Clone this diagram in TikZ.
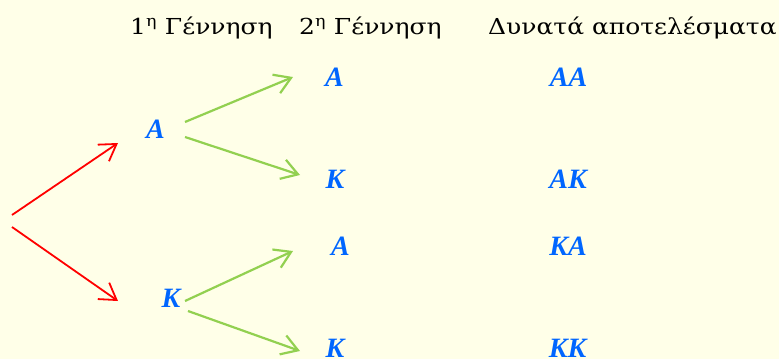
\documentclass[tikz,border=0pt]{standalone}
\usepackage{fontspec}
\setmainfont{Liberation Serif}
\newfontfamily\headfont[FakeStretch=1.135]{DejaVu Serif}
\usetikzlibrary{arrows.meta, calc}
\definecolor{treebg}{HTML}{FFFFE8}
\definecolor{treeblue}{HTML}{0066FF}
\definecolor{treered}{HTML}{FF0000}
\definecolor{treegreen}{HTML}{92D050}

\begin{document}
\begin{tikzpicture}[x=1pt, y=-1pt,
      gene/.style={font=\fontsize{28}{30}\selectfont\bfseries\itshape,
                   text=treeblue, inner sep=0pt, minimum width=40pt,
                   minimum height=30pt},
      head/.style={font=\headfont\fontsize{22}{24}\selectfont, inner sep=0pt,
                   anchor=base west},
      redarr/.style={-{Straight Barb[length=16pt, width=20pt]}, line width=1.8pt,
                     color=treered},
      greenarr/.style={-{Straight Barb[length=16pt, width=20pt]}, line width=2.2pt,
                       color=treegreen},
    ]
      \fill[treebg] (0,0) rectangle (779,359);
      \useasboundingbox (0,0) rectangle (779,359);

      % headings
      \node[head] (gen1) at (130,34) {1\textsuperscript{η} Γέννηση};
      \node[head] (gen2) at (299,34) {2\textsuperscript{η} Γέννηση};
      \node[head] (res) at (488,34) {Δυνατά αποτελέσματα};

      % first generation
      \coordinate (o1) at (12,215);
      \coordinate (o2) at (12,227);
      \node[gene] (a1) at (155.5,129) {A};
      \node[gene] (k1) at (171,298) {K};

      % second generation
      \node[gene] (a2) at (334.5,77) {A};
      \node[gene] (k2) at (335,179) {K};
      \node[gene] (a3) at (340.5,246.5) {A};
      \node[gene] (k3) at (335,348) {K};

      % outcomes
      \node[gene] (aa) at (568.5,77) {AA};
      \node[gene] (ak) at (568,179) {AK};
      \node[gene] (ka) at (568,246) {KA};
      \node[gene] (kk) at (567.5,348) {KK};

      \draw[redarr] (o1) -- ($(a1)+(-37.5,14)$);
      \draw[redarr] (o2) -- ($(k1)+(-53,3)$);
      \draw[greenarr] ($(a1)+(29.5,-7)$) -- ($(a2)+(-41.5,0)$);
      \draw[greenarr] ($(a1)+(29.5,8)$) -- ($(k2)+(-35,-4)$);
      \draw[greenarr] ($(k1)+(14,3)$) -- ($(a3)+(-47.5,4.5)$);
      \draw[greenarr] ($(k1)+(17,13)$) -- ($(k3)+(-35,3)$);
    \end{tikzpicture}
\end{document}
